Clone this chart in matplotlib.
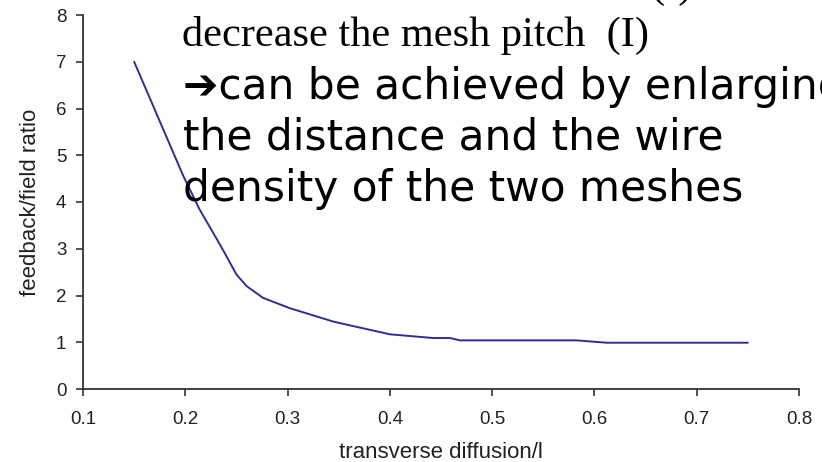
import matplotlib
matplotlib.use("Agg")
import matplotlib.pyplot as plt

# Feedback/field ratio versus transverse diffusion
diffusion = [0.15, 0.198, 0.214, 0.231, 0.24, 0.25, 0.26, 0.276, 0.302,
             0.345, 0.40, 0.4425, 0.459, 0.4685, 0.5826, 0.612, 0.75]
ratio = [7.0, 4.56, 3.84, 3.2, 2.85, 2.45, 2.2, 1.95, 1.73,
         1.44, 1.17, 1.09, 1.09, 1.04, 1.04, 0.99, 0.99]

x_ticks = [0.1, 0.2, 0.3, 0.4, 0.5, 0.6, 0.7, 0.8]
y_ticks = [0, 1, 2, 3, 4, 5, 6, 7, 8]
x_tick_labels = ["0.1", "0.2", "0.3", "0.4", "0.5", "0.6", "0.7", "0.8"]
y_tick_labels = [str(v) for v in y_ticks]

W, H = 822, 462
fig = plt.figure(figsize=(W / 100, H / 100), dpi=100)
fig.patch.set_facecolor("white")

left, right, bottom, top = 83, 799, 389, 15
ax = fig.add_axes([left / W, 1 - bottom / H, (right - left) / W, (bottom - top) / H])
ax.plot(diffusion, ratio, color="#2e2e96", linewidth=1.4,
        solid_joinstyle="round", solid_capstyle="round")

ax.set_xlim(0.1, 0.8)
ax.set_ylim(0, 8)
ax.set_xticks(x_ticks)
ax.set_xticklabels(x_tick_labels)
ax.set_yticks(y_ticks)
ax.set_yticklabels(y_tick_labels)

for side in ("top", "right"):
    ax.spines[side].set_visible(False)
for side in ("left", "bottom"):
    ax.spines[side].set_color("#333333")
    ax.spines[side].set_linewidth(1.3)

ax.tick_params(axis="both", direction="out", length=5, width=1.2, color="#333333",
               labelcolor="#222222", labelsize=13.5)
ax.tick_params(axis="x", pad=11)
ax.tick_params(axis="y", pad=7)
for lbl in ax.get_xticklabels() + ax.get_yticklabels():
    lbl.set_fontfamily("Liberation Sans")

ax.set_xlabel("transverse diffusion/l", fontfamily="Liberation Sans", fontsize=16,
              color="#222222", labelpad=10)
ax.set_ylabel("feedback/field ratio", fontfamily="Liberation Sans", fontsize=16,
              color="#222222", labelpad=11)
ax.patch.set_alpha(0)


def px(x, y):
    return x / W, 1 - y / H


# Overlaid slide annotation
fig.text(*px(650, -3), "(I)", fontfamily="Liberation Serif", fontsize=30.5,
         va="baseline", ha="left", color="black")
fig.text(*px(182, 46), "decrease the mesh pitch  (I)", fontfamily="Liberation Serif",
         fontsize=30.5, va="baseline", ha="left", color="black")

sans = dict(family=["DejaVu Sans"], size=30.4, va="baseline", ha="left", color="black")
fig.text(*px(183, 99), "\u2794can be achieved by enlarging", **sans)
fig.text(*px(183, 150), "the distance and the wire", **sans)
fig.text(*px(183, 201), "density of the two meshes", **sans)

fig.savefig("out.png", dpi=100, facecolor="white")
